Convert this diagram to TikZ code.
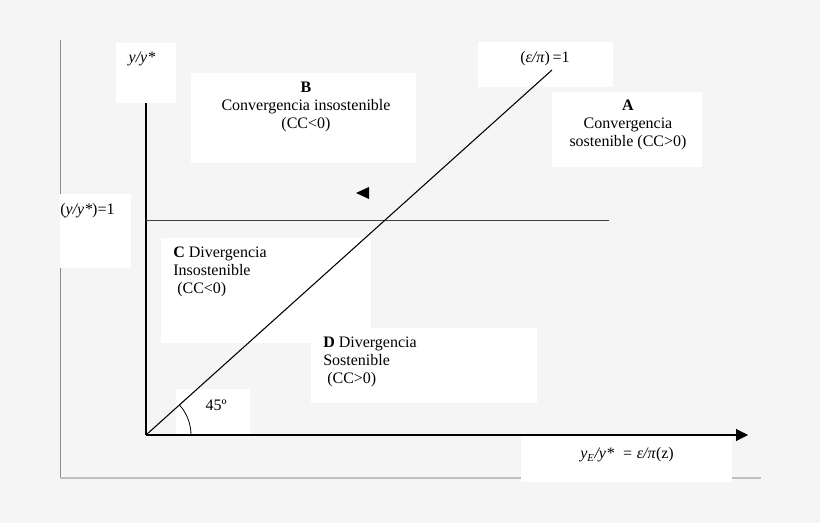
\documentclass[tikz,border=0pt]{standalone}
\usepackage{fontspec}
\setmainfont{Liberation Serif}
\usetikzlibrary{arrows.meta}
\begin{document}
\begin{tikzpicture}[x=0.75pt,y=-0.75pt,
  box/.style={fill=white,draw=none},
  txt/.style={inner sep=0pt,font=\fontsize{12}{13.5}\selectfont},
  ltxt/.style={txt,anchor=west,align=left},
  ctxt/.style={txt,align=center}]
\fill[black!4] (0,0) rectangle (820,523);
\useasboundingbox (0,0) rectangle (820,523);
% frame
\draw[black!45] (60,40) -- (60,478);
\draw[black!25,line width=1.2pt] (60,478) -- (761,478);
% white boxes
\fill[box] (116,43) rectangle (176,103);
\fill[box] (191,73) rectangle (416,163);
\fill[box] (60,194) rectangle (131,268);
\fill[box] (161,238) rectangle (371,343);
\fill[box] (311,328) rectangle (537,403);
\fill[box] (552,92) rectangle (702,167);
\fill[box] (478,42) rectangle (613,87);
\fill[box] (176,389) rectangle (250,435);
\fill[box] (521,436) rectangle (732,482);
% axes
\coordinate (O) at (146,435);
\coordinate (Ytop) at (146,103);
\coordinate (Xend) at (748,435);
\coordinate (Dend) at (552,70);
\coordinate (H1) at (146,220);
\coordinate (H2) at (609,220);
\draw[line width=0.8pt] (Ytop) -- (O);
\draw[line width=0.8pt,-{Triangle[length=9pt,width=9pt]}] (O) -- (Xend);
\draw[black!75] (H1) -- (H2);
\draw[line width=0.8pt] (O) -- (Dend);
\draw[line width=0.6pt] (191,435) arc[start angle=0,end angle=-41.96,radius=45];
\fill (356,193) -- (369,187) -- (369,199) -- cycle;
% texts
\node[ctxt] (ly) at (142,59) {\textit{y/y*}};
\node[ctxt] (lB) at (306,107) {\textbf{B}\\Convergencia insostenible\\(CC<0)};
\node[ltxt] (l1) at (60,211) {(\textit{y/y*})=1};
\node[ltxt] (lC) at (173,272) {\textbf{C} Divergencia\\Insostenible\\\ (CC<0)};
\node[ltxt] (lD) at (323,362) {\textbf{D} Divergencia\\Sostenible\\\ (CC>0)};
\node[ctxt] (lA) at (628,125) {\textbf{A}\\Convergencia\\sostenible (CC>0)};
\node[ctxt] (le) at (545,59) {(\textit{ε/π})\,=1};
\node[ctxt] (l45) at (216,405) {45º};
\node[ctxt] (lx) at (627,455) {\textit{y\textsubscript{E}/y*}\ \ \textit{= ε/π}(z)};
\end{tikzpicture}
\end{document}
